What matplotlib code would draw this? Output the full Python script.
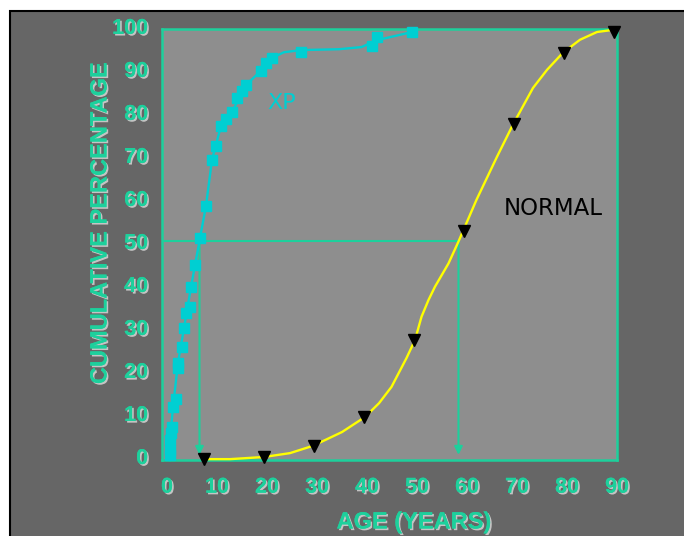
import matplotlib.pyplot as plt
import matplotlib.patheffects as pe
import matplotlib.transforms as mtransforms
from matplotlib.patches import Rectangle

# XP markers (age, cumulative %)
xp_age = [1.2, 1.2, 1.2, 1.4, 1.6, 1.8, 2.4, 2.8, 2.8, 3.6, 4.0, 4.4, 5.2, 5.4, 6.2,
          7.2, 8.4, 9.6, 10.4, 11.4, 12.4, 13.6, 14.6, 15.6, 16.4, 19.4, 20.4, 21.6,
          27.4, 41.6, 42.6, 49.6]
xp_pct = [1.2, 2.3, 4.7, 6.3, 7.7, 12.3, 14.2, 21.4, 22.6, 26.3, 30.7, 34.2, 35.6, 40.2, 45.3,
          51.6, 59.1, 69.8, 73.0, 77.7, 79.3, 80.9, 84.2, 85.8, 87.2, 90.5, 92.3, 93.5,
          94.9, 96.3, 98.4, 99.5]

# XP line
xp_line_age = [1.2, 1.2, 1.8, 2.8, 4.0, 5.4, 6.2, 7.2, 8.4, 9.6, 11.4, 13.6, 16.4, 19.4,
               21.6, 24.0, 27.4, 35.0, 39.5, 42.6, 49.6]
xp_line_pct = [0.0, 4.7, 12.3, 22.6, 30.7, 40.2, 45.3, 51.6, 59.1, 69.8, 77.7, 80.9, 87.2, 90.5,
               93.5, 94.8, 95.3, 95.5, 96.0, 97.6, 99.5]

# NORMAL markers
normal_age = [8, 20, 30, 40, 50, 60, 70, 80, 90]
normal_pct = [0.2, 0.8, 3.3, 10.0, 28.0, 53.3, 78.0, 94.6, 99.6]

# NORMAL line
normal_line_age = [7.8, 13.2, 20.0, 25.2, 29.8, 35.6, 40.2, 43.0, 45.5, 48.5, 50.2, 51.5,
                   52.9, 54.2, 56.9, 58.9, 60.2, 62.5, 66.6, 69.8, 73.8, 76.6, 79.8, 83.2,
                   86.6, 89.8]
normal_line_pct = [0.2, 0.2, 0.7, 1.6, 3.3, 6.5, 10.0, 13.2, 17.0, 23.7, 27.9, 33.3,
                   37.2, 40.3, 45.7, 50.8, 54.3, 60.5, 70.5, 78.0, 86.5, 90.7, 94.7, 97.7,
                   99.5, 100.0]

half = 50.8
xp_median = 7.1
normal_median = 58.9

green = '#1dd09c'
cyan = '#00cfd2'
shadow = [pe.withSimplePatchShadow(offset=(1.2, -1.2), shadow_rgbFace='#c4c4c4', alpha=1.0),
          pe.Normal()]

fig = plt.figure(figsize=(6.84, 5.36), dpi=100, facecolor='white')
bg = Rectangle((10 / 684, -0.1), 1.2, 1.1 - 11 / 536, transform=fig.transFigure,
               facecolor='#666666', edgecolor='black', linewidth=1.5, zorder=-10)
fig.add_artist(bg)

ax = fig.add_axes([162 / 684, 1 - 460 / 536, 455 / 684, 431 / 536])
ax.set_facecolor('#8e8e8e')
ax.set_xlim(-0.4, 90.6)
ax.set_ylim(0, 100.2)
for s in ax.spines.values():
    s.set_color(green)
    s.set_linewidth(1.8)

ax.set_xticks(range(0, 91, 10))
ax.set_yticks(range(0, 101, 10))
ax.tick_params(axis='x', length=0, pad=12, labelcolor=green)
ax.tick_params(axis='y', length=0, pad=10, labelcolor=green)
for lab in ax.get_xticklabels() + ax.get_yticklabels():
    lab.set_fontfamily('Liberation Sans')
    lab.set_fontweight('bold')
    lab.set_fontsize(15.5)
    lab.set_path_effects(shadow)
# small nudges so labels sit where they do in the original slide
dx = mtransforms.ScaledTranslation(3 / 100, 0, fig.dpi_scale_trans)
dy = mtransforms.ScaledTranslation(0, 4 / 100, fig.dpi_scale_trans)
for lab in ax.get_xticklabels():
    lab.set_transform(lab.get_transform() + dx)
for lab in ax.get_yticklabels():
    lab.set_transform(lab.get_transform() + dy)

# 50% guide lines
ax.plot([-0.4, normal_median], [half, half], color=green, lw=1.5, zorder=2)
for m in [xp_median, normal_median]:
    ax.annotate('', xy=(m, 1.2), xytext=(m, half),
                arrowprops=dict(arrowstyle='-|>', color=green, lw=1.5,
                                mutation_scale=12, shrinkA=0, shrinkB=0), zorder=2)

ax.plot(normal_line_age, normal_line_pct, color='#ffff00', lw=1.7, zorder=3, clip_on=False)
ax.plot(normal_age, normal_pct, 'v', color='black', ms=8, zorder=4, clip_on=False)

ax.plot(xp_line_age, xp_line_pct, color=cyan, lw=1.7, zorder=3, clip_on=False)
ax.plot(xp_age, xp_pct, 's', color=cyan, ms=7, zorder=4, clip_on=False)

ax.text(23.6, 83, 'XP', color=cyan, fontsize=16, ha='center', va='center',
        family='DejaVu Sans')
ax.text(77.8, 58.5, 'NORMAL', color='black', fontsize=16.5, ha='center', va='center',
        family='DejaVu Sans')

fig.text(100 / 684, 1 - 223 / 536, 'CUMULATIVE PERCENTAGE', rotation=90, color=green,
         fontsize=17, fontweight='bold', family='Liberation Sans', ha='center', va='center',
         path_effects=shadow)
fig.text(414 / 684, 1 - 522 / 536, 'AGE (YEARS)', color=green, fontsize=17,
         fontweight='bold', family='Liberation Sans', ha='center', va='center',
         path_effects=shadow)

fig.savefig('out.png', dpi=100, facecolor='white')
